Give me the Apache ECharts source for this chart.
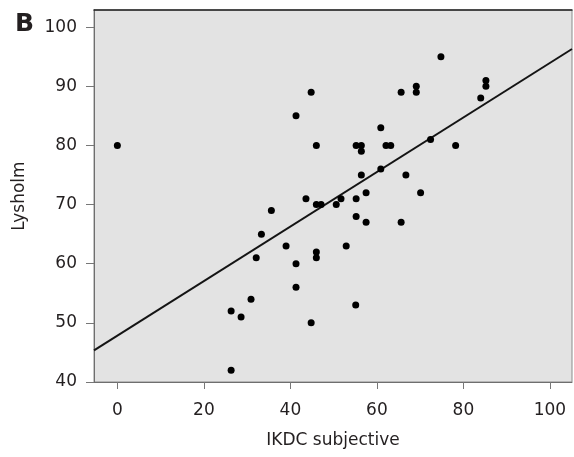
<!DOCTYPE html>
<html>
<head>
<meta charset="utf-8">
<script src="https://cdn.jsdelivr.net/npm/echarts@6/dist/echarts.min.js"></script>
<style>
  html, body { margin: 0; padding: 0; background: #fff; }
  #chart { width: 574px; height: 457px; }
</style>
</head>
<body>
<div id="chart"></div>
<script>
// IKDC subjective score vs Lysholm score, one point per patient
const ikdc = [
  0, 41.3, 46, 43.6, 46, 47.1, 50.6, 35.6, 33.3, 39,
  32.1, 46, 46, 41.3, 41.3, 30.9, 52.9, 26.3, 28.6, 44.8,
  55.1, 26.3, 74.8, 44.8, 65.6, 69.1, 69.1, 85.2, 85.2, 84,
  60.9, 55.2, 56.4, 56.4, 62.1, 63.2, 78.2, 72.4, 60.9, 56.4,
  66.7, 57.5, 70.1, 51.7, 55.2, 55.2, 57.5, 65.6
];
const lysholm = [
  80, 85, 80, 71, 70, 70, 70, 69, 65, 63,
  61, 62, 61, 60, 56, 54, 63, 52, 51, 50,
  53, 42, 95, 89, 89, 90, 89, 91, 90, 88,
  83, 80, 80, 79, 80, 80, 80, 81, 76, 75,
  75, 72, 72, 71, 71, 68, 67, 67
];

// Linear fit: Lysholm = intercept + slope * IKDC
const fitIntercept = 47.85;
const fitSlope = 0.461;

// Axis extents and tick labels
const xMin = -5.4, xMax = 105.1;
const yMin = 40, yMax = 102.9;
const xTicks = [0, 20, 40, 60, 80, 100];
const yTicks = [40, 50, 60, 70, 80, 90, 100];

const points = ikdc.map((x, i) => [x, lysholm[i]]);
const fitLine = [xMin, xMax].map(x => [x, fitIntercept + fitSlope * x]);

const textColor = '#231f20';
const font = 'DejaVu Sans';

const chart = echarts.init(document.getElementById('chart'), null, { renderer: 'canvas' });
chart.setOption({
  animation: false,
  backgroundColor: '#ffffff',
  title: {
    text: 'B',
    left: 10,
    top: 7,
    textStyle: { fontFamily: font, fontWeight: 'bold', fontSize: 25, color: textColor }
  },
  grid: {
    left: 94, right: 2, top: 10, bottom: 75,
    show: true,
    backgroundColor: '#e3e3e3',
    borderColor: '#8a8a8a',
    borderWidth: 1
  },
  xAxis: [
    {
      type: 'value',
      min: xMin, max: xMax,
      name: 'IKDC subjective',
      nameLocation: 'middle',
      nameGap: 50,
      nameTextStyle: { fontFamily: font, fontSize: 17, color: textColor },
      axisLine: { show: true, onZero: false, lineStyle: { color: '#6e6e6e', width: 1 } },
      axisTick: { show: true, length: 7, customValues: xTicks, lineStyle: { color: '#777' } },
      axisLabel: { customValues: xTicks, margin: 20, fontFamily: font, fontSize: 17, color: textColor },
      splitLine: { show: false }
    },
    {
      // plain frame edge along the top of the plot
      type: 'value',
      position: 'top',
      min: xMin, max: xMax,
      axisLine: { show: true, onZero: false, lineStyle: { color: '#222', width: 1.5 } },
      axisTick: { show: false },
      axisLabel: { show: false },
      splitLine: { show: false }
    }
  ],
  yAxis: {
    type: 'value',
    min: yMin, max: yMax,
    name: 'Lysholm',
    nameLocation: 'middle',
    nameGap: 66,
    nameRotate: 90,
    nameTextStyle: { fontFamily: font, fontSize: 17, color: textColor },
    axisLine: { show: true, onZero: false, lineStyle: { color: '#6e6e6e', width: 1 } },
    axisTick: { show: true, length: 8, customValues: yTicks, lineStyle: { color: '#777' } },
    axisLabel: { customValues: yTicks, margin: 17, fontFamily: font, fontSize: 17, color: textColor },
    splitLine: { show: false }
  },
  series: [
    {
      type: 'line',
      data: fitLine,
      symbol: 'none',
      lineStyle: { color: '#141414', width: 2 },
      silent: true,
      z: 2
    },
    {
      type: 'scatter',
      data: points,
      symbol: 'circle',
      symbolSize: 7,
      itemStyle: { color: '#000000', opacity: 1 },
      z: 3
    }
  ]
});
</script>
</body>
</html>
